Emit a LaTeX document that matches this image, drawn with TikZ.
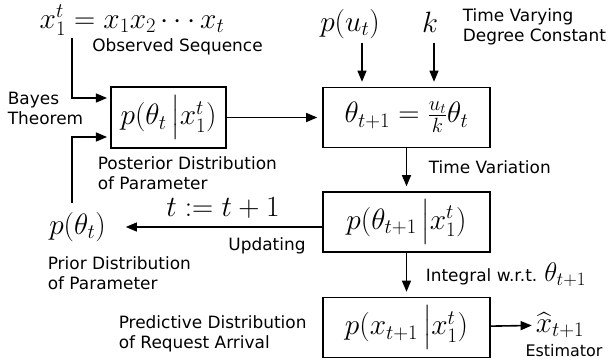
\RequirePackage{fix-cm}
\documentclass[tikz,border=0pt]{standalone}
\usepackage{amsmath}
\usepackage{fontspec}
\setsansfont{DejaVu Sans}
\usetikzlibrary{arrows}

\tikzset{
  blk/.style={draw, line width=1.6bp, minimum width=167bp, minimum height=60bp},
  eqn/.style={font=\fontsize{29.5}{33}\selectfont},
  lbl/.style={font=\fontsize{17}{20}\selectfont\sffamily, align=left, inner sep=0pt}
}

\begin{document}
\begin{tikzpicture}[x=10bp, y=-10bp, >=triangle 45, line width=1.6bp]
    \useasboundingbox (0,0) rectangle (60.9,36.3);

    % inputs
    \node[eqn] (obs) at (13.2,2.0) {$x_1^t = x_1x_2\cdots x_t$};
    \node[lbl] (obsl) at (17.75,4.7) {Observed Sequence};
    \node[lbl] (bayes) at (4.55,10.8) {Bayes\\Theorem};
    \node[eqn] (pu) at (35.0,2.4) {$p(u_t)$};
    \node[eqn] (k) at (43.0,2.2) {$k$};
    \node[lbl, anchor=west] (tvl) at (46.2,2.7) {Time Varying\\Degree Constant};

    % boxes
    \node[blk, eqn, minimum width=115bp, minimum height=61bp] (post) at (16.85,11.75) {$p(\theta_t\,\big|x_1^t)$};
    \node[blk, eqn] (next) at (40.65,11.75) {$\theta_{t+1} = \frac{u_t}{k}\theta_t$};
    \node[blk, eqn] (pred) at (40.65,22.2) {$p(\theta_{t+1}\,\big|x_1^t)$};
    \node[blk, eqn] (arr) at (40.65,32.75) {$p(x_{t+1}\,\big|x_1^t)$};

    % labels
    \node[lbl, anchor=west] (postl) at (9.7,17.3) {Posterior Distribution\\of Parameter};
    \node[lbl, anchor=west] (tvar) at (42.8,16.7) {Time Variation};
    \node[eqn] (prior) at (7.75,22.7) {$p(\theta_t)$};
    \node[eqn] (upd) at (22.3,20.8) {$t := t+1$};
    \node[lbl] (updl) at (26.7,24.6) {Updating};
    \node[lbl, anchor=west] (priorl) at (4.7,27.3) {Prior Distribution\\of Parameter};
    \node[lbl, anchor=west] (intl) at (42.5,27.5) {Integral w.r.t. {\fontsize{27}{30}\selectfont$\theta_{t+1}$}};
    \node[lbl, anchor=west] (predl) at (11.8,33.4) {Predictive Distribution\\of Request Arrival};
    \node[eqn] (xhat) at (56.0,32.5) {$\widehat{x}_{t+1}$};
    \node[lbl, font=\fontsize{16}{19}\selectfont\sffamily] (est) at (56.4,35.1) {Estimator};

    % free ends
    \coordinate (obsfoot) at (7.2,3.8);
    \coordinate (priortop) at (7.2,20.3);
    \coordinate (in1) at (11.2,9.8);
    \coordinate (in2) at (11.2,13.7);
    \coordinate (putail) at (36.2,4.3);
    \coordinate (ktail) at (43.4,4.3);

    \draw [->, shorten >=5bp] (obsfoot) |- (in1);
    \draw [->, shorten >=5bp] (priortop) |- (in2);
    \draw [->, shorten >=5bp] (putail) -- (putail |- next.north);
    \draw [->, shorten >=5bp] (ktail) -- (ktail |- next.north);
    \draw [->, shorten >=5bp] (post) edge (next) (next) edge (pred) (pred) edge (arr);
    \draw [->, shorten >=16bp] (pred.west |- prior) -- (prior.east);
    \draw [->] (arr) -- (xhat);
\end{tikzpicture}
\end{document}
